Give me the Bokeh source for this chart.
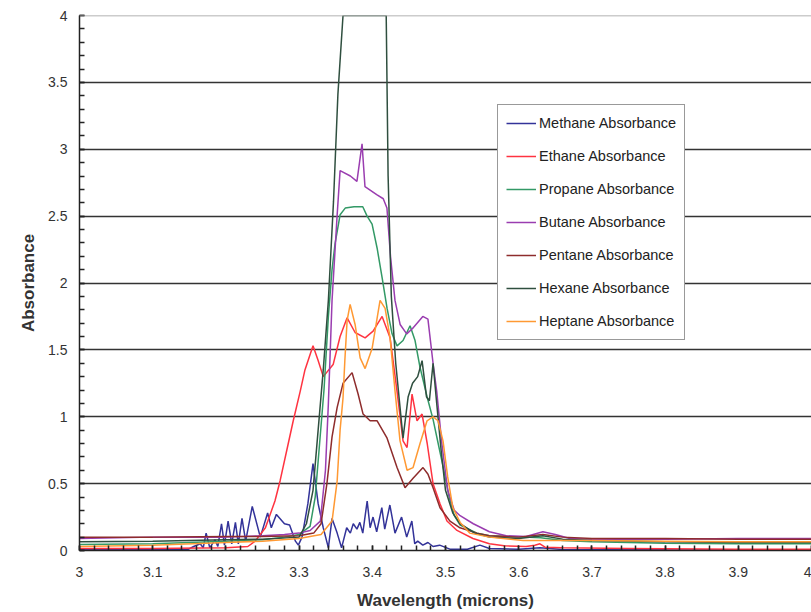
from bokeh.plotting import figure
from bokeh.models import (Range1d, FixedTicker, Legend, LegendItem, Span,
                          CustomJSTickFormatter)
from bokeh.embed import file_html
from bokeh.resources import INLINE

# ---------------- data ----------------
x_ticks = [3.0, 3.1, 3.2, 3.3, 3.4, 3.5, 3.6, 3.7, 3.8, 3.9, 4.0]
y_ticks = [0, 0.5, 1, 1.5, 2, 2.5, 3, 3.5, 4]

methane_wl = [3.00, 3.10, 3.14, 3.149, 3.156, 3.165, 3.169, 3.173, 3.178, 3.185, 3.189,
              3.194, 3.198, 3.203, 3.208, 3.213, 3.217, 3.222, 3.227, 3.236, 3.247,
              3.257, 3.262, 3.269, 3.28, 3.287, 3.295, 3.299, 3.304, 3.312, 3.319,
              3.326, 3.333, 3.34, 3.345, 3.352, 3.358, 3.365, 3.37, 3.374, 3.379,
              3.383, 3.387, 3.393, 3.397, 3.401, 3.406, 3.413, 3.417, 3.424, 3.431,
              3.44, 3.447, 3.454, 3.458, 3.462, 3.469, 3.476, 3.483, 3.492, 3.506,
              3.53, 3.547, 3.56, 3.60, 3.629, 3.66, 3.80, 4.00]
methane_abs = [0.005, 0.005, 0.01, 0.01, 0.03, 0.05, 0.02, 0.13, 0.02, 0.08, 0.03,
               0.20, 0.04, 0.22, 0.05, 0.21, 0.05, 0.24, 0.07, 0.33, 0.10,
               0.28, 0.17, 0.27, 0.20, 0.19, 0.07, 0.04, 0.10, 0.35, 0.65,
               0.35, 0.17, 0.02, 0.24, 0.13, 0.02, 0.17, 0.13, 0.20, 0.16,
               0.21, 0.13, 0.37, 0.17, 0.25, 0.14, 0.32, 0.16, 0.34, 0.13,
               0.25, 0.10, 0.22, 0.05, 0.07, 0.04, 0.06, 0.03, 0.04, 0.01,
               0.01, 0.04, 0.015, 0.01, 0.02, 0.008, 0.005, 0.003]

ethane_wl = [3.00, 3.10, 3.20, 3.23, 3.24, 3.254, 3.267, 3.274, 3.284, 3.292, 3.3015,
             3.308, 3.319, 3.326, 3.333, 3.3465, 3.356, 3.3656, 3.3765, 3.3902, 3.4011,
             3.4134, 3.4243, 3.4338, 3.442, 3.4475, 3.4543, 3.4611, 3.468, 3.475,
             3.483, 3.4925, 3.502, 3.5157, 3.5375, 3.56, 3.58, 3.61, 3.622, 3.629,
             3.636, 3.66, 3.75, 3.90, 4.00]
ethane_abs = [0.015, 0.015, 0.02, 0.03, 0.07, 0.17, 0.37, 0.52, 0.77, 0.97, 1.19,
              1.35, 1.53, 1.42, 1.30, 1.39, 1.60, 1.74, 1.63, 1.59, 1.64,
              1.75, 1.59, 1.19, 0.82, 0.77, 1.17, 0.97, 1.02, 0.80,
              0.50, 0.35, 0.22, 0.15, 0.09, 0.05, 0.035, 0.03, 0.04, 0.05,
              0.025, 0.02, 0.015, 0.01, 0.01]

propane_wl = [3.00, 3.10, 3.20, 3.25, 3.28, 3.30, 3.315, 3.322, 3.328, 3.334, 3.34,
              3.345, 3.349, 3.356, 3.363, 3.375, 3.387, 3.3929, 3.3997, 3.4066,
              3.4134, 3.4202, 3.427, 3.4338, 3.442, 3.4516, 3.4584, 3.4652, 3.4748,
              3.483, 3.49, 3.497, 3.505, 3.512, 3.52, 3.543, 3.56, 3.606, 3.63,
              3.66, 3.70, 3.80, 3.90, 4.00]
propane_abs = [0.045, 0.05, 0.07, 0.08, 0.10, 0.12, 0.18, 0.40, 0.80, 1.20, 1.75,
               2.10, 2.29, 2.51, 2.56, 2.57, 2.57, 2.50, 2.44, 2.26,
               2.04, 1.81, 1.62, 1.53, 1.57, 1.68, 1.57, 1.37, 1.15,
               0.98, 0.80, 0.62, 0.40, 0.26, 0.19, 0.13, 0.11, 0.10, 0.095,
               0.075, 0.065, 0.055, 0.05, 0.05]

butane_wl = [3.00, 3.10, 3.20, 3.25, 3.28, 3.30, 3.315, 3.329, 3.336, 3.34, 3.345,
             3.352, 3.356, 3.370, 3.379, 3.386, 3.39, 3.406, 3.415, 3.42, 3.425,
             3.431, 3.438, 3.447, 3.455, 3.469, 3.476, 3.483, 3.488, 3.495, 3.503,
             3.512, 3.52, 3.538, 3.56, 3.583, 3.61, 3.633, 3.65, 3.67, 3.70, 3.80,
             3.90, 4.00]
butane_abs = [0.09, 0.10, 0.10, 0.11, 0.12, 0.13, 0.15, 0.22, 0.60, 1.10, 1.87,
              2.51, 2.84, 2.80, 2.76, 3.04, 2.72, 2.66, 2.63, 2.56, 2.19,
              1.87, 1.69, 1.62, 1.66, 1.75, 1.73, 1.40, 1.19, 0.80, 0.45,
              0.30, 0.26, 0.20, 0.14, 0.11, 0.105, 0.14, 0.12, 0.09, 0.085, 0.085,
              0.09, 0.09]

pentane_wl = [3.00, 3.10, 3.20, 3.25, 3.30, 3.32, 3.33, 3.338, 3.345, 3.352, 3.36,
              3.3724, 3.3806, 3.3874, 3.397, 3.4066, 3.4202, 3.4338, 3.4447, 3.4557,
              3.4693, 3.4761, 3.483, 3.4925, 3.5061, 3.5198, 3.543, 3.56, 3.60,
              3.633, 3.66, 3.70, 3.80, 3.90, 4.00]
pentane_abs = [0.10, 0.10, 0.105, 0.105, 0.11, 0.13, 0.20, 0.50, 0.85, 1.07, 1.25,
               1.33, 1.17, 1.02, 0.97, 0.97, 0.84, 0.62, 0.47, 0.54,
               0.62, 0.57, 0.47, 0.32, 0.22, 0.17, 0.13, 0.11, 0.10,
               0.12, 0.10, 0.09, 0.09, 0.085, 0.085]

hexane_wl = [3.00, 3.10, 3.20, 3.25, 3.30, 3.31, 3.319, 3.326, 3.333, 3.34, 3.347,
             3.353, 3.36, 3.419, 3.4216, 3.426, 3.432, 3.442, 3.449, 3.455, 3.462,
             3.468, 3.474, 3.478, 3.483, 3.488, 3.494, 3.50, 3.51, 3.52, 3.54,
             3.56, 3.60, 3.633, 3.66, 3.70, 3.80, 3.90, 4.00]
hexane_abs = [0.065, 0.07, 0.08, 0.085, 0.10, 0.20, 0.45, 0.90, 1.35, 1.87, 2.61,
              3.41, 4.00, 4.00, 2.80, 1.90, 1.40, 0.84, 1.15, 1.25, 1.30,
              1.42, 1.15, 1.12, 1.40, 1.10, 0.75, 0.45, 0.28, 0.20, 0.13,
              0.10, 0.09, 0.11, 0.085, 0.075, 0.065, 0.06, 0.06]

heptane_wl = [3.00, 3.10, 3.20, 3.25, 3.30, 3.33, 3.345, 3.352, 3.356, 3.36, 3.3625,
              3.3656, 3.3697, 3.3765, 3.3834, 3.3902, 3.3997, 3.4106, 3.4175, 3.4243,
              3.4311, 3.4379, 3.4475, 3.4557, 3.4652, 3.4748, 3.483, 3.4898, 3.4966,
              3.503, 3.51, 3.52, 3.533, 3.56, 3.606, 3.70, 3.80, 3.90, 4.00]
heptane_abs = [0.03, 0.04, 0.06, 0.07, 0.09, 0.12, 0.22, 0.52, 0.90, 1.14, 1.42,
               1.72, 1.84, 1.69, 1.44, 1.36, 1.51, 1.87, 1.81, 1.59,
               1.19, 0.82, 0.60, 0.62, 0.80, 0.97, 1.00, 0.97, 0.82,
               0.55, 0.32, 0.21, 0.13, 0.10, 0.075, 0.075, 0.07, 0.065, 0.065]

series = [
    ("Methane Absorbance", methane_wl, methane_abs, "#333399"),
    ("Ethane Absorbance", ethane_wl, ethane_abs, "#FF3340"),
    ("Propane Absorbance", propane_wl, propane_abs, "#339966"),
    ("Butane Absorbance", butane_wl, butane_abs, "#9A3DB0"),
    ("Pentane Absorbance", pentane_wl, pentane_abs, "#8E2C2C"),
    ("Hexane Absorbance", hexane_wl, hexane_abs, "#2F4F3F"),
    ("Heptane Absorbance", heptane_wl, heptane_abs, "#FF9933"),
]

FONT = "Liberation Sans"

p = figure(width=811, height=612, output_backend="svg", toolbar_location=None,
           x_range=Range1d(3, 4), y_range=Range1d(0, 4),
           min_border_left=79, min_border_right=0, min_border_top=15,
           min_border_bottom=62)
p.outline_line_color = None
p.background_fill_color = "white"
p.border_fill_color = "white"

# grid
p.xgrid.visible = False
p.ygrid.ticker = FixedTicker(ticks=[0.5, 1, 1.5, 2, 2.5, 3, 3.5])
p.ygrid.grid_line_color = "#333333"
p.ygrid.grid_line_width = 1.5
p.add_layout(Span(location=4, dimension="width", line_color="#999999", line_width=1.5))

# axes
xminor = [round(3 + i * 0.02, 2) for i in range(51)]
yminor = [round(i * 0.1, 1) for i in range(41)]
p.xaxis.ticker = FixedTicker(ticks=x_ticks, minor_ticks=xminor)
p.yaxis.ticker = FixedTicker(ticks=y_ticks, minor_ticks=yminor)
p.xaxis.formatter = CustomJSTickFormatter(code="return String(Math.round(tick*10)/10);")
p.yaxis.formatter = CustomJSTickFormatter(code="return String(Math.round(tick*10)/10);")

for ax in (p.xaxis[0], p.yaxis[0]):
    ax.axis_line_color = "#222222"
    ax.axis_line_width = 1.5
    ax.major_tick_out = 0
    ax.major_tick_in = 5
    ax.minor_tick_out = 0
    ax.minor_tick_in = 5
    ax.major_tick_line_color = "#222222"
    ax.minor_tick_line_color = "#222222"
    ax.major_tick_line_width = 1.5
    ax.minor_tick_line_width = 1.5
    ax.major_label_text_font = FONT
    ax.major_label_text_font_size = "14px"
    ax.major_label_text_color = "#333333"
    ax.axis_label_text_font = FONT
    ax.axis_label_text_font_size = "17px"
    ax.axis_label_text_font_style = "bold"
    ax.axis_label_text_color = "#333333"

p.xaxis.axis_label = "Wavelength (microns)"
p.yaxis.axis_label = "Absorbance"
p.xaxis.major_label_standoff = 16
p.xaxis.axis_label_standoff = 11
p.yaxis.major_label_standoff = 12
p.yaxis.axis_label_standoff = 7

items = []
for name, wl, ab, col in series:
    r = p.line(wl, ab, line_color=col, line_width=1.5)
    items.append(LegendItem(label=name, renderers=[r]))

legend = Legend(items=items, location=(418, 210))
legend.border_line_color = "#333333"
legend.border_line_width = 1
legend.background_fill_color = "white"
legend.background_fill_alpha = 1
legend.label_text_font = FONT
legend.label_text_font_size = "14.5px"
legend.label_text_color = "#222222"
legend.glyph_width = 30
legend.glyph_height = 20
legend.label_height = 20
legend.spacing = 13
legend.padding = 8
legend.margin = 0
legend.label_standoff = 3
p.add_layout(legend, "center")

open("out.html", "w").write(file_html(p, INLINE))
